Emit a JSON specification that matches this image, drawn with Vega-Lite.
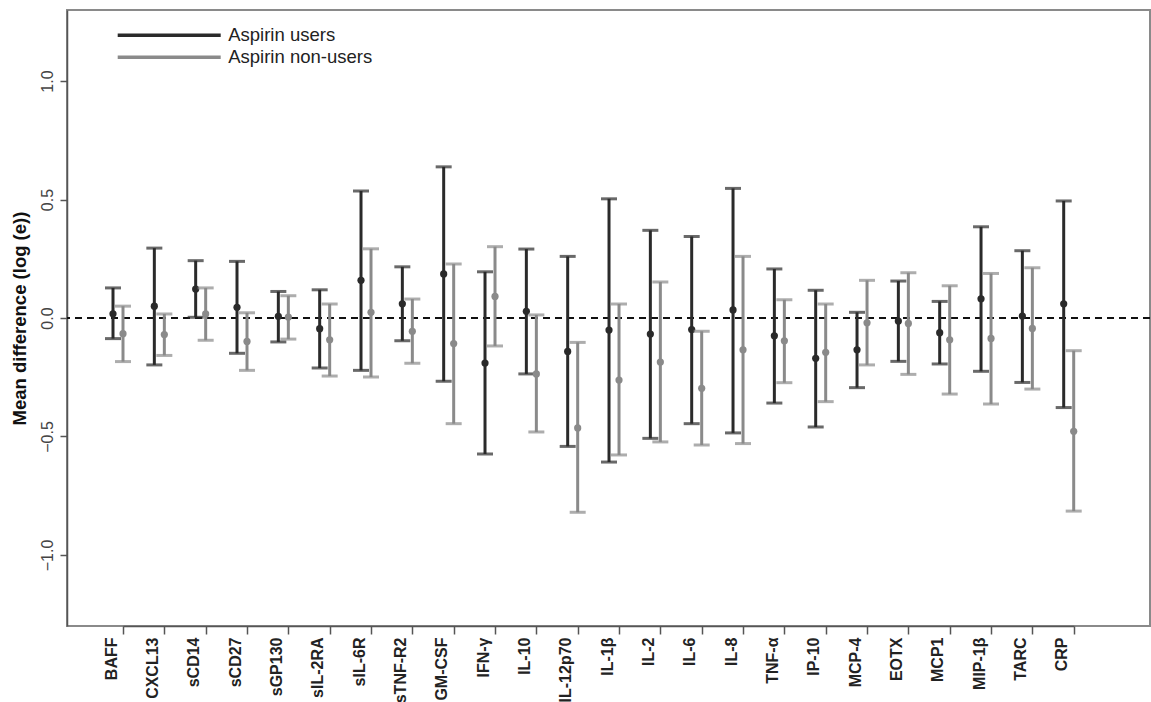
{
  "$schema": "https://vega.github.io/schema/vega-lite/v6.json",
  "width": 1083,
  "height": 616,
  "autosize": {"type": "none"},
  "padding": {"left": 67, "top": 10, "right": 1, "bottom": 76},
  "config": {
    "font": "Liberation Sans",
    "view": {"stroke": "#8a8a8a", "strokeWidth": 2},
    "axis": {"domainColor": "#555", "domainWidth": 1.5, "tickColor": "#555", "tickWidth": 1.5, "grid": false},
    "legend": {
      "orient": "none", "legendX": 48.7, "legendY": 13.3, "padding": 0,
      "symbolType": "M-1,0H9.3", "symbolSize": 400, "symbolStrokeWidth": 3.5, "symbolOpacity": 1,
      "labelFontSize": 18.5, "labelColor": "#222", "labelOffset": 88.5, "rowPadding": 0,
      "title": null
    }
  },
  "data": {"values": [
    {"marker": "BAFF", "group": "Aspirin users", "est": 0.018, "lo": -0.087, "hi": 0.127},
    {"marker": "BAFF", "group": "Aspirin non-users", "est": -0.066, "lo": -0.184, "hi": 0.05},
    {"marker": "CXCL13", "group": "Aspirin users", "est": 0.05, "lo": -0.198, "hi": 0.295},
    {"marker": "CXCL13", "group": "Aspirin non-users", "est": -0.07, "lo": -0.158, "hi": 0.017},
    {"marker": "sCD14", "group": "Aspirin users", "est": 0.122, "lo": 0.003, "hi": 0.242},
    {"marker": "sCD14", "group": "Aspirin non-users", "est": 0.017, "lo": -0.094, "hi": 0.127},
    {"marker": "sCD27", "group": "Aspirin users", "est": 0.045, "lo": -0.149, "hi": 0.239},
    {"marker": "sCD27", "group": "Aspirin non-users", "est": -0.099, "lo": -0.221, "hi": 0.022},
    {"marker": "sGP130", "group": "Aspirin users", "est": 0.007, "lo": -0.101, "hi": 0.112},
    {"marker": "sGP130", "group": "Aspirin non-users", "est": 0.004, "lo": -0.089, "hi": 0.094},
    {"marker": "sIL-2RA", "group": "Aspirin users", "est": -0.045, "lo": -0.211, "hi": 0.119},
    {"marker": "sIL-2RA", "group": "Aspirin non-users", "est": -0.092, "lo": -0.245, "hi": 0.059},
    {"marker": "sIL-6R", "group": "Aspirin users", "est": 0.159, "lo": -0.221, "hi": 0.536},
    {"marker": "sIL-6R", "group": "Aspirin non-users", "est": 0.024, "lo": -0.249, "hi": 0.292},
    {"marker": "sTNF-R2", "group": "Aspirin users", "est": 0.06, "lo": -0.096, "hi": 0.216},
    {"marker": "sTNF-R2", "group": "Aspirin non-users", "est": -0.056, "lo": -0.191, "hi": 0.08},
    {"marker": "GM-CSF", "group": "Aspirin users", "est": 0.186, "lo": -0.267, "hi": 0.638},
    {"marker": "GM-CSF", "group": "Aspirin non-users", "est": -0.108, "lo": -0.446, "hi": 0.228},
    {"marker": "IFN-γ", "group": "Aspirin users", "est": -0.19, "lo": -0.574, "hi": 0.195},
    {"marker": "IFN-γ", "group": "Aspirin non-users", "est": 0.091, "lo": -0.118, "hi": 0.301},
    {"marker": "IL-10", "group": "Aspirin users", "est": 0.028, "lo": -0.236, "hi": 0.291},
    {"marker": "IL-10", "group": "Aspirin non-users", "est": -0.236, "lo": -0.481, "hi": 0.013},
    {"marker": "IL-12p70", "group": "Aspirin users", "est": -0.141, "lo": -0.542, "hi": 0.26},
    {"marker": "IL-12p70", "group": "Aspirin non-users", "est": -0.464, "lo": -0.82, "hi": -0.103},
    {"marker": "IL-1β", "group": "Aspirin users", "est": -0.051, "lo": -0.608, "hi": 0.503},
    {"marker": "IL-1β", "group": "Aspirin non-users", "est": -0.262, "lo": -0.578, "hi": 0.059},
    {"marker": "IL-2", "group": "Aspirin users", "est": -0.068, "lo": -0.508, "hi": 0.37},
    {"marker": "IL-2", "group": "Aspirin non-users", "est": -0.186, "lo": -0.523, "hi": 0.152},
    {"marker": "IL-6", "group": "Aspirin users", "est": -0.049, "lo": -0.446, "hi": 0.344},
    {"marker": "IL-6", "group": "Aspirin non-users", "est": -0.297, "lo": -0.536, "hi": -0.056},
    {"marker": "IL-8", "group": "Aspirin users", "est": 0.034, "lo": -0.485, "hi": 0.547},
    {"marker": "IL-8", "group": "Aspirin non-users", "est": -0.134, "lo": -0.53, "hi": 0.26},
    {"marker": "TNF-α", "group": "Aspirin users", "est": -0.075, "lo": -0.359, "hi": 0.207},
    {"marker": "TNF-α", "group": "Aspirin non-users", "est": -0.096, "lo": -0.273, "hi": 0.077},
    {"marker": "IP-10", "group": "Aspirin users", "est": -0.17, "lo": -0.46, "hi": 0.117},
    {"marker": "IP-10", "group": "Aspirin non-users", "est": -0.145, "lo": -0.353, "hi": 0.059},
    {"marker": "MCP-4", "group": "Aspirin users", "est": -0.134, "lo": -0.294, "hi": 0.024},
    {"marker": "MCP-4", "group": "Aspirin non-users", "est": -0.02, "lo": -0.198, "hi": 0.159},
    {"marker": "EOTX", "group": "Aspirin users", "est": -0.013, "lo": -0.183, "hi": 0.156},
    {"marker": "EOTX", "group": "Aspirin non-users", "est": -0.023, "lo": -0.238, "hi": 0.191},
    {"marker": "MCP1", "group": "Aspirin users", "est": -0.062, "lo": -0.194, "hi": 0.07},
    {"marker": "MCP1", "group": "Aspirin non-users", "est": -0.092, "lo": -0.321, "hi": 0.136},
    {"marker": "MIP-1β", "group": "Aspirin users", "est": 0.081, "lo": -0.225, "hi": 0.385},
    {"marker": "MIP-1β", "group": "Aspirin non-users", "est": -0.086, "lo": -0.363, "hi": 0.188},
    {"marker": "TARC", "group": "Aspirin users", "est": 0.008, "lo": -0.272, "hi": 0.284},
    {"marker": "TARC", "group": "Aspirin non-users", "est": -0.044, "lo": -0.3, "hi": 0.212},
    {"marker": "CRP", "group": "Aspirin users", "est": 0.06, "lo": -0.378, "hi": 0.494},
    {"marker": "CRP", "group": "Aspirin non-users", "est": -0.478, "lo": -0.815, "hi": -0.138}
  ]},
  "encoding": {
    "x": {
      "field": "marker", "type": "nominal",
      "scale": {
        "type": "point", "padding": 0, "range": [56, 1006.7],
        "domain": ["BAFF","CXCL13","sCD14","sCD27","sGP130","sIL-2RA","sIL-6R","sTNF-R2","GM-CSF","IFN-γ","IL-10","IL-12p70","IL-1β","IL-2","IL-6","IL-8","TNF-α","IP-10","MCP-4","EOTX","MCP1","MIP-1β","TARC","CRP"]
      },
      "axis": {
        "title": null, "labelAngle": -90, "labelAlign": "right", "labelBaseline": "middle",
        "labelOffset": -12, "labelPadding": 3, "tickSize": 8,
        "labelFontSize": 16, "labelFontWeight": "bold", "labelColor": "#222"
      }
    },
    "color": {
      "field": "group", "type": "nominal",
      "scale": {"domain": ["Aspirin users", "Aspirin non-users"], "range": ["#2a2a2a", "#8a8a8a"]}
    }
  },
  "layer": [
    {
      "mark": {"type": "rule", "strokeDash": [7, 5], "strokeWidth": 2, "color": "#111"},
      "encoding": {
        "y": {"datum": 0, "type": "quantitative", "scale": {"domain": [-1.3, 1.3], "nice": false, "zero": false},
          "axis": {
            "title": "Mean difference (log (e))", "titleFontSize": 18.5, "titleFontWeight": "bold", "titleColor": "#111", "titlePadding": 10,
            "values": [-1, -0.5, 0, 0.5, 1], "format": ".1f",
            "labelAngle": -90, "labelAlign": "center", "labelBaseline": "alphabetic", "labelPadding": 8,
            "labelFontSize": 16, "labelColor": "#444", "tickSize": 7
          }
        },
        "color": {"value": "#111"},
        "x": null
      }
    },
    {
      "transform": [{"filter": "datum.group === 'Aspirin users'"}],
      "layer": [
        {"mark": {"type": "rule", "strokeWidth": 3, "xOffset": -10}, "encoding": {"y": {"field": "lo", "type": "quantitative"}, "y2": {"field": "hi"}}},
        {"mark": {"type": "tick", "orient": "horizontal", "size": 16, "thickness": 3, "xOffset": -10}, "encoding": {"y": {"field": "hi", "type": "quantitative"}}},
        {"mark": {"type": "tick", "orient": "horizontal", "size": 16, "thickness": 3, "xOffset": -10}, "encoding": {"y": {"field": "lo", "type": "quantitative"}}},
        {"mark": {"type": "circle", "size": 52, "opacity": 1, "xOffset": -10}, "encoding": {"y": {"field": "est", "type": "quantitative"}}}
      ]
    },
    {
      "transform": [{"filter": "datum.group === 'Aspirin non-users'"}],
      "layer": [
        {"mark": {"type": "rule", "strokeWidth": 3}, "encoding": {"y": {"field": "lo", "type": "quantitative"}, "y2": {"field": "hi"}}},
        {"mark": {"type": "tick", "orient": "horizontal", "size": 16, "thickness": 3}, "encoding": {"y": {"field": "hi", "type": "quantitative"}}},
        {"mark": {"type": "tick", "orient": "horizontal", "size": 16, "thickness": 3}, "encoding": {"y": {"field": "lo", "type": "quantitative"}}},
        {"mark": {"type": "circle", "size": 52, "opacity": 1}, "encoding": {"y": {"field": "est", "type": "quantitative"}}}
      ]
    }
  ]
}
